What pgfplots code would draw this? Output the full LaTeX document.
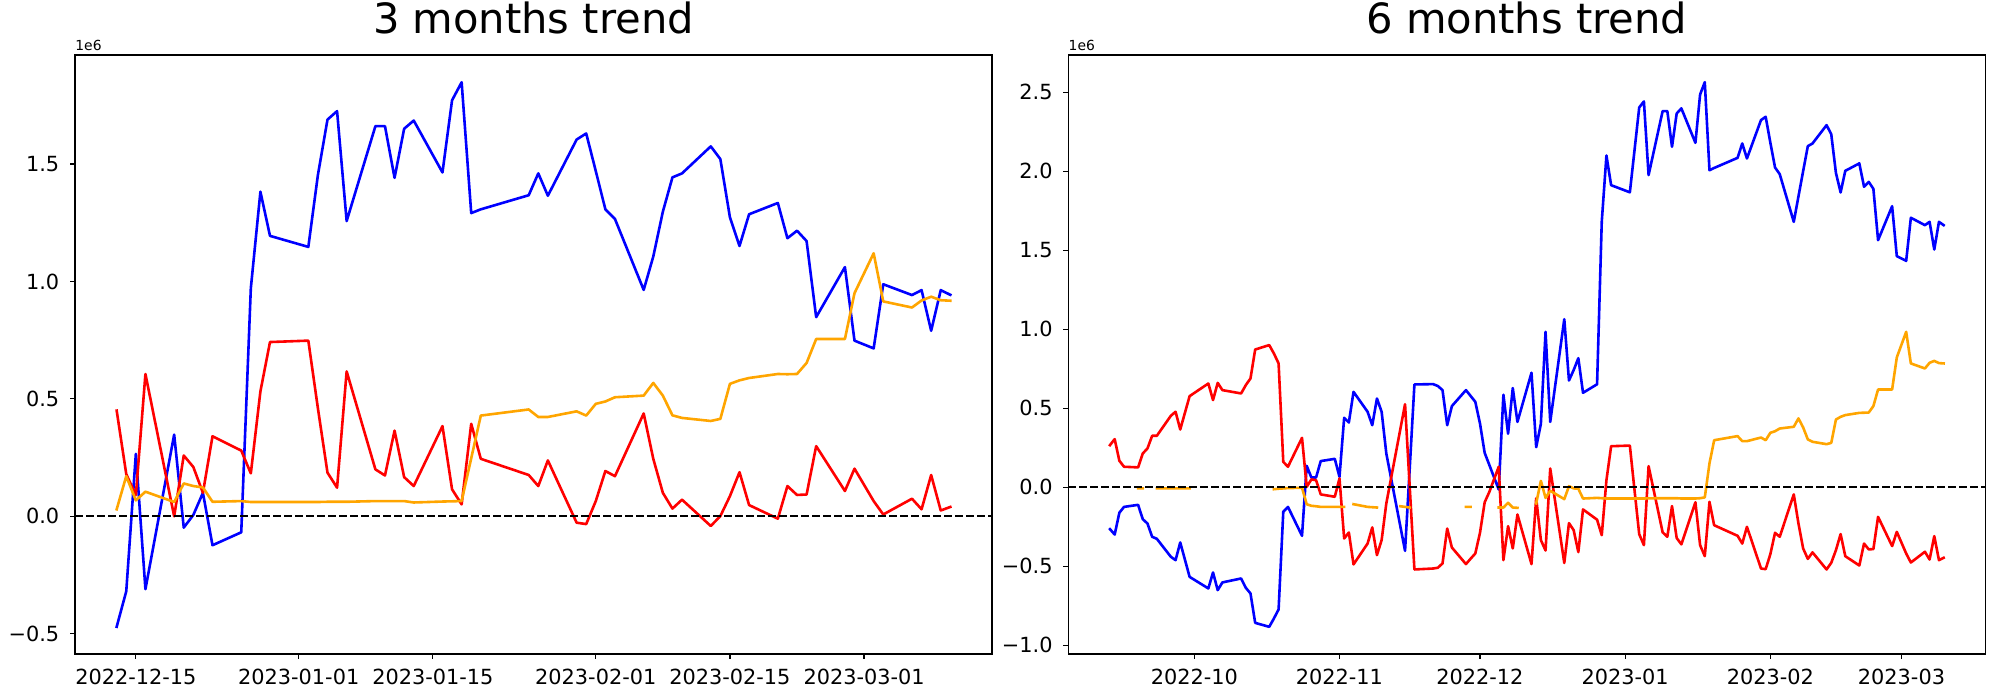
\documentclass[border=0pt]{standalone}
\usepackage{fontspec}
\setmainfont{DejaVu Sans}
\usepackage{pgfplots}
\usepackage{pgfplotstable}
\pgfplotsset{compat=1.18}

\definecolor{mplorange}{RGB}{255,165,0}

% day = days since 2022-09-01, values in 1e6
\pgfplotstableread{
d    blue    red     orange
103 -0.470   0.450   0.030
104 -0.319   0.180   0.171
105  0.266   0.090   0.068
106 -0.310   0.606   0.105
109  0.348   0.000   0.061
110 -0.048   0.259   0.140
111  0.006   0.210   0.129
112  0.100   0.100   0.123
113 -0.123   0.341   0.062
116 -0.068   0.280   0.065
117  0.971   0.183   0.061
118  1.382   0.532   0.061
119  1.194   0.742   0.061
123  1.147   0.748   0.061
124  1.453   0.460   0.061
125  1.689   0.186   0.062
126  1.725   0.122   0.062
127  1.257   0.617   0.062
130  1.661   0.200   0.065
131  1.661   0.174   0.065
132  1.441   0.365   0.065
133  1.650   0.167   0.065
134  1.685   0.129   0.059
137  1.464   0.384   0.063
138  1.771   0.115   0.064
139  1.848   0.051   0.065
140  1.291   0.394   0.247
141  1.307   0.245   0.429
146  1.367   0.176   0.455
147  1.460   0.129   0.423
148  1.365   0.238   0.423
151  1.604  -0.027   0.447
152  1.630  -0.033   0.429
153  1.470   0.065   0.479
154  1.307   0.193   0.489
155  1.266   0.171   0.507
158  0.964   0.438   0.514
159  1.106   0.245   0.568
160  1.297   0.100   0.514
161  1.443   0.033   0.430
162  1.460   0.071   0.419
165  1.575  -0.041   0.406
166  1.521   0.001   0.415
167  1.273   0.086   0.564
168  1.151   0.188   0.579
169  1.286   0.048   0.589
172  1.334  -0.010   0.606
173  1.184   0.129   0.605
174  1.216   0.091   0.606
175  1.172   0.093   0.653
176  0.848   0.299   0.755
179  1.061   0.108   0.755
180  0.748   0.203   0.950
182  0.715   0.065   1.120
183  0.988   0.008   0.915
186  0.942   0.075   0.889
187  0.963   0.030   0.919
188  0.790   0.176   0.935
189  0.963   0.025   0.920
190  0.943   0.040   0.918
}\threemonths

\pgfplotstableread{
d    blue    red     orange
12  -0.266   0.266   nan
13  -0.300   0.304   nan
14  -0.162   0.167   nan
15  -0.125   0.129   nan
18  -0.112   0.125  -0.008
19  -0.203   0.213  -0.008
20  -0.230   0.245   nan
21  -0.314   0.325   nan
22  -0.327   0.325  -0.008
25  -0.441   0.452  -0.008
26  -0.462   0.477  -0.008
27  -0.350   0.365  -0.008
29  -0.568   0.576  -0.008
33  -0.641   0.656   nan
34  -0.540   0.551   nan
35  -0.652   0.660   nan
36  -0.603   0.614   nan
40  -0.578   0.593   nan
41  -0.637   0.646   nan
42  -0.673   0.688   nan
43  -0.859   0.871   nan
46  -0.884   0.899   nan
47  -0.831   0.846  -0.013
48  -0.774   0.783  -0.010
49  -0.156   0.160  -0.008
50  -0.125   0.129  -0.006
53  -0.308   0.312  -0.004
54   0.135   0.002  -0.108
55   0.061   0.049  -0.118
56   0.061   0.044  -0.121
57   0.165  -0.046  -0.125
60   0.179  -0.061  -0.125
61   0.065   0.055  -0.125
62   0.439  -0.325  -0.125
63   0.409  -0.287   nan
64   0.603  -0.489  -0.108
67   0.477  -0.357  -0.125
68   0.392  -0.255  -0.127
69   0.561  -0.430  -0.129
70   0.477  -0.335   nan
71   0.213  -0.103   nan
74  -0.249   0.368  -0.121
75  -0.403   0.525  -0.125
76   0.120   0.000  -0.129
77   0.650  -0.521   nan
81   0.652  -0.515   nan
82   0.640  -0.510   nan
83   0.614  -0.483   nan
84   0.392  -0.262   nan
85   0.513  -0.382   nan
88   0.614  -0.487  -0.125
89   0.577  -0.453  -0.125
90   0.540  -0.420   nan
91   0.403  -0.289   nan
92   0.217  -0.096   nan
93   0.140  -0.030   nan
95  -0.015   0.129  -0.129
96   0.585  -0.462  -0.129
97   0.338  -0.247  -0.099
98   0.627  -0.388  -0.129
99   0.413  -0.173  -0.131
102  0.724  -0.487   nan
103  0.253  -0.070  -0.103
104  0.401  -0.335   0.040
105  0.983  -0.401  -0.068
106  0.413   0.118  -0.023
109  1.063  -0.480  -0.076
110  0.675  -0.228   0.006
111  0.741  -0.272  -0.008
112  0.816  -0.411  -0.010
113  0.597  -0.141  -0.072
116  0.651  -0.206  -0.068
117  1.679  -0.304  -0.070
118  2.099   0.044  -0.072
119  1.911   0.259  -0.072
123  1.866   0.263  -0.072
124  2.133  -0.020  -0.072
125  2.403  -0.298  -0.072
126  2.441  -0.367  -0.072
127  1.975   0.133  -0.071
130  2.380  -0.286  -0.070
131  2.380  -0.314  -0.070
132  2.154  -0.120  -0.070
133  2.365  -0.322  -0.070
134  2.397  -0.362  -0.072
137  2.179  -0.096  -0.072
138  2.485  -0.367  -0.070
139  2.563  -0.437  -0.065
140  2.006  -0.093   0.150
141  2.020  -0.241   0.297
146  2.084  -0.308   0.323
147  2.175  -0.357   0.291
148  2.080  -0.251   0.291
151  2.323  -0.515   0.314
152  2.344  -0.519   0.297
153  2.180  -0.424   0.344
154  2.023  -0.289   0.354
155  1.981  -0.314   0.371
158  1.679  -0.046   0.382
159  1.840  -0.230   0.435
160  2.000  -0.388   0.378
161  2.158  -0.454   0.302
162  2.175  -0.413   0.287
165  2.291  -0.521   0.272
166  2.234  -0.479   0.280
167  1.989  -0.399   0.428
168  1.865  -0.297   0.445
169  2.002  -0.437   0.456
172  2.049  -0.496   0.470
173  1.901  -0.357   0.471
174  1.932  -0.394   0.472
175  1.888  -0.392   0.513
176  1.563  -0.188   0.618
179  1.778  -0.373   0.618
180  1.462  -0.283   0.821
182  1.432  -0.420   0.983
183  1.705  -0.477   0.783
186  1.658  -0.409   0.751
187  1.679  -0.458   0.787
188  1.504  -0.310   0.799
189  1.679  -0.462   0.785
190  1.658  -0.447   0.783
}\sixmonths

\pgfplotsset{
  trend/.style={
    scale only axis, width=458.5pt, height=299.5pt,
    clip mode=individual,
    axis line style={line width=0.6pt},
    tick align=outside, tick pos=left,
    major tick length=2.43pt,
    every tick/.style={line width=0.6pt, black},
    minor tick num=0,
    tick label style={font=\fontsize{10.42}{12}\selectfont},
    xticklabel style={anchor=base, inner sep=0pt, yshift=-13pt},
    yticklabel style={anchor=east, inner sep=0pt, xshift=-5.25pt},
    title style={at={(0.5,1)}, anchor=base, yshift=4.75pt,
                 font=\fontsize{20.83}{25}\selectfont},
    unbounded coords=jump,
  },
  series/.style={line width=1.3pt, line join=round, line cap=rect},
  zeroline/.style={black, line width=1.15pt, dash pattern=on 3.85pt off 1.65pt},
}

\begin{document}
\begin{tikzpicture}
\useasboundingbox (0,0) rectangle (1000pt,350pt);

\begin{axis}[trend,
  at={(37.5pt,23pt)}, anchor=south west,
  title={3 months trend},
  xmin=98.65, xmax=194.35, ymin=-0.586, ymax=1.964,
  xtick={105,122,136,153,167,181},
  xticklabels={2022-12-15,2023-01-01,2023-01-15,2023-02-01,2023-02-15,2023-03-01},
  ytick={-0.5,0,0.5,1,1.5},
  yticklabels={−0.5,0.0,0.5,1.0,1.5},
]
\addplot[series, blue] table[x=d, y=blue] {\threemonths};
\addplot[series, red] table[x=d, y=red] {\threemonths};
\addplot[series, mplorange] table[x=d, y=orange] {\threemonths};
\addplot[zeroline] coordinates {(98.65,0) (194.35,0)};
\node[anchor=base west, inner sep=0pt, font=\fontsize{6.94}{8}\selectfont] at (rel axis cs:0,1) [yshift=2.15pt] {1e6};
\end{axis}

\begin{axis}[trend,
  at={(534.15pt,23pt)}, anchor=south west,
  title={6 months trend},
  xmin=3.1, xmax=198.9, ymin=-1.056, ymax=2.735,
  xtick={30,61,91,122,153,181},
  xticklabels={2022-10,2022-11,2022-12,2023-01,2023-02,2023-03},
  ytick={-1,-0.5,0,0.5,1,1.5,2,2.5},
  yticklabels={−1.0,−0.5,0.0,0.5,1.0,1.5,2.0,2.5},
]
\addplot[series, blue] table[x=d, y=blue] {\sixmonths};
\addplot[series, red] table[x=d, y=red] {\sixmonths};
\addplot[series, mplorange] table[x=d, y=orange] {\sixmonths};
\addplot[zeroline] coordinates {(3.1,0) (198.9,0)};
\node[anchor=base west, inner sep=0pt, font=\fontsize{6.94}{8}\selectfont] at (rel axis cs:0,1) [yshift=2.15pt] {1e6};
\end{axis}
\end{tikzpicture}
\end{document}
